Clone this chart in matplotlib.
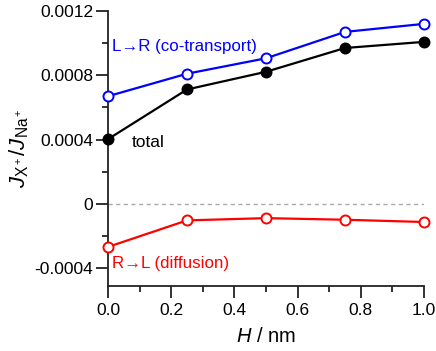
import matplotlib
matplotlib.use("Agg")
import matplotlib.pyplot as plt
from matplotlib.ticker import MultipleLocator, FixedLocator, FuncFormatter

plt.rcParams['font.family'] = ['Liberation Sans', 'DejaVu Sans']
plt.rcParams['mathtext.fontset'] = 'custom'
plt.rcParams['mathtext.rm'] = 'Liberation Sans'
plt.rcParams['mathtext.it'] = 'Liberation Sans:italic'

H = [0.0, 0.25, 0.5, 0.75, 1.0]
co_transport = [0.00067, 0.00081, 0.000906, 0.00107, 0.00112]
total = [0.000403, 0.000712, 0.000822, 0.00097, 0.001008]
diffusion = [-0.000267, -0.000102, -0.000088, -0.000098, -0.000112]

ytick_vals = [-0.0004, 0.0, 0.0004, 0.0008, 0.0012]
ytick_labels = ["-0.0004", "0", "0.0004", "0.0008", "0.0012"]

fig = plt.figure(figsize=(4.36, 3.51), dpi=100)
ax = fig.add_axes([108/436, (351-286)/351, (424-108)/436, (286-11)/351])

ax.axhline(0, color='#aaaaaa', lw=1.0, ls=(0, (3, 2.5)), zorder=1)

ax.plot(H, co_transport, color='#0000ff', lw=1.6, marker='o', ms=7.2,
        mfc='white', mec='#0000ff', mew=1.4, zorder=3, clip_on=False)
ax.plot(H, total, color='black', lw=1.6, marker='o', ms=7.2,
        mfc='black', mec='black', mew=1.4, zorder=3, clip_on=False)
ax.plot(H, diffusion, color='#ff0000', lw=1.6, marker='o', ms=7.2,
        mfc='white', mec='#ff0000', mew=1.4, zorder=3, clip_on=False)

ax.set_xlim(0, 1.0)
ax.set_ylim(-0.00051, 0.0012)

for s in ['top', 'right']:
    ax.spines[s].set_visible(False)
for s in ['left', 'bottom']:
    ax.spines[s].set_linewidth(1.3)
    ax.spines[s].set_color('#222222')

ax.xaxis.set_major_locator(MultipleLocator(0.2))
ax.xaxis.set_minor_locator(MultipleLocator(0.1))
ax.xaxis.set_major_formatter(FuncFormatter(lambda v, p: f"{v:.1f}"))
ax.yaxis.set_major_locator(FixedLocator(ytick_vals))
ax.set_yticklabels(ytick_labels)
ax.yaxis.set_minor_locator(FixedLocator([-0.0002, 0.0002, 0.0006, 0.0010]))

ax.tick_params(which='major', length=8.5, width=1.3, labelsize=12.5, color='#222222', pad=2)
ax.tick_params(axis='x', which='major', pad=4)
ax.tick_params(which='minor', length=4.5, width=1.3, color='#222222')

ax.set_xlabel(r"$H$ / nm", fontsize=14.5, labelpad=6)
ax.set_ylabel(r"$J_{\mathrm{X}^+}/J_{\mathrm{Na}^+}$", fontsize=16, labelpad=3)

ax.text(0.013, 0.00098, "L\u2192R (co-transport)", color='#0000ff', fontsize=12.2,
        ha='left', va='center')
ax.text(0.075, 0.000385, "total", color='black', fontsize=12.5, ha='left', va='center')
ax.text(0.013, -0.00037, "R\u2192L (diffusion)", color='#ff0000', fontsize=12.2,
        ha='left', va='center')

fig.savefig("out.png", dpi=100)
